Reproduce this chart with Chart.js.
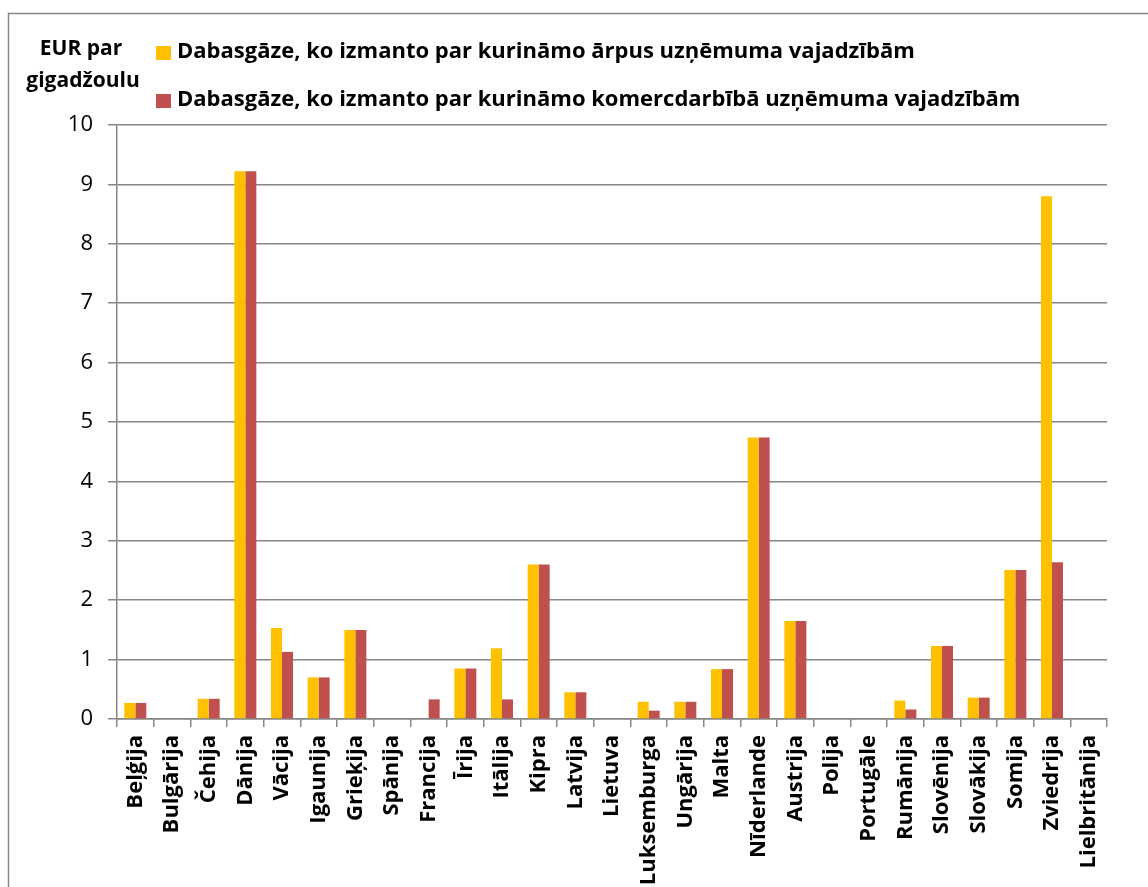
<!DOCTYPE html>
<html>
<head>
<meta charset="utf-8">
<script src="https://cdn.jsdelivr.net/npm/chart.js@4.4.1/dist/chart.umd.min.js"></script>
<style>
  html, body { margin: 0; padding: 0; background: #fff; overflow: hidden; }
  #wrap { position: relative; width: 1148px; height: 887px; }
</style>
</head>
<body>
<div id="wrap"><canvas id="chart"></canvas></div>
<script>
// Countries (x axis categories)
const countries = [
  'Beļģija', 'Bulgārija', 'Čehija', 'Dānija', 'Vācija', 'Igaunija', 'Grieķija',
  'Spānija', 'Francija', 'Īrija', 'Itālija', 'Kipra', 'Latvija', 'Lietuva',
  'Luksemburga', 'Ungārija', 'Malta', 'Nīderlande', 'Austrija', 'Polija',
  'Portugāle', 'Rumānija', 'Slovēnija', 'Slovākija', 'Somija', 'Zviedrija',
  'Lielbritānija'
];

// EUR per gigajoule
const outsideBusiness = [
  0.27, 0, 0.34, 9.22, 1.53, 0.70, 1.50,
  0, 0, 0.85, 1.19, 2.60, 0.45, 0,
  0.29, 0.29, 0.84, 4.74, 1.65, 0,
  0, 0.31, 1.23, 0.36, 2.51, 8.80,
  0
];
const businessUse = [
  0.27, 0, 0.34, 9.22, 1.13, 0.70, 1.50,
  0, 0.33, 0.85, 0.33, 2.60, 0.45, 0,
  0.14, 0.29, 0.84, 4.74, 1.65, 0,
  0, 0.16, 1.23, 0.36, 2.51, 2.64,
  0
];

const seriesLabels = [
  'Dabasgāze, ko izmanto par kurināmo ārpus uzņēmuma vajadzībām',
  'Dabasgāze, ko izmanto par kurināmo komercdarbībā uzņēmuma vajadzībām'
];
const seriesColors = ['#FFC000', '#C0504D'];
const yTitle = ['EUR par', 'gigadžoulu'];
const yTicks = [0, 1, 2, 3, 4, 5, 6, 7, 8, 9, 10];

const FONT = '"Open Sans", Carlito, Calibri, sans-serif';
const GRID = '#868686';

// Outer frame, y title and legend drawn on the canvas
const decorations = {
  id: 'decorations',
  beforeDraw(chart) {
    const ctx = chart.ctx;
    ctx.save();
    ctx.strokeStyle = GRID;
    ctx.lineWidth = 1.5;
    ctx.strokeRect(8.5, 13.5, chart.width + 20, chart.height + 20);
    ctx.restore();
  },
  afterDraw(chart) {
    const ctx = chart.ctx;
    ctx.save();
    ctx.fillStyle = '#000';
    ctx.font = 'bold 21px ' + FONT;
    ctx.textAlign = 'center';
    ctx.textBaseline = 'middle';
    ctx.fillText(yTitle[0], 81, 49);
    ctx.fillText(yTitle[1], 83, 81);

    // legend rows
    const rows = [53, 101];
    ctx.textAlign = 'left';
    ctx.font = 'bold 22px ' + FONT;
    seriesLabels.forEach((lbl, i) => {
      ctx.fillStyle = seriesColors[i];
      ctx.fillRect(156, rows[i] - 7, 15, 14);
      ctx.fillStyle = '#000';
      ctx.fillText(lbl, 177, rows[i] - 1);
    });
    ctx.restore();
  }
};

const config = {
  type: 'bar',
  data: {
    labels: countries,
    datasets: [
      {
        label: seriesLabels[0],
        data: outsideBusiness,
        backgroundColor: seriesColors[0],
        categoryPercentage: 0.6,
        barPercentage: 1.0
      },
      {
        label: seriesLabels[1],
        data: businessUse,
        backgroundColor: seriesColors[1],
        categoryPercentage: 0.6,
        barPercentage: 1.0
      }
    ]
  },
  options: {
    responsive: true,
    maintainAspectRatio: false,
    animation: false,
    layout: {
      padding: { top: 125, right: 41, left: 0, bottom: 0 }
    },
    scales: {
      x: {
        grid: {
          drawOnChartArea: false,
          color: GRID,
          lineWidth: 1.5,
          tickLength: 8
        },
        border: { color: GRID, width: 1.5 },
        ticks: {
          autoSkip: false,
          minRotation: 90,
          maxRotation: 90,
          padding: 8,
          color: '#000',
          font: { family: FONT, size: 22, weight: 'bold' }
        },
        afterFit: (scale) => { scale.height = 168; }
      },
      y: {
        min: 0,
        max: 10,
        afterBuildTicks: (scale) => {
          scale.ticks = yTicks.map(v => ({ value: v }));
        },
        grid: {
          color: GRID,
          lineWidth: 1.5,
          tickLength: 9
        },
        border: { color: GRID, width: 1.5 },
        ticks: {
          padding: 15,
          color: '#000',
          font: { family: FONT, size: 22 }
        },
        afterFit: (scale) => { scale.width = 117; }
      }
    },
    plugins: {
      legend: { display: false },
      tooltip: { enabled: false }
    }
  },
  plugins: [decorations]
};

new Chart(document.getElementById('chart'), config);
</script>
</body>
</html>
